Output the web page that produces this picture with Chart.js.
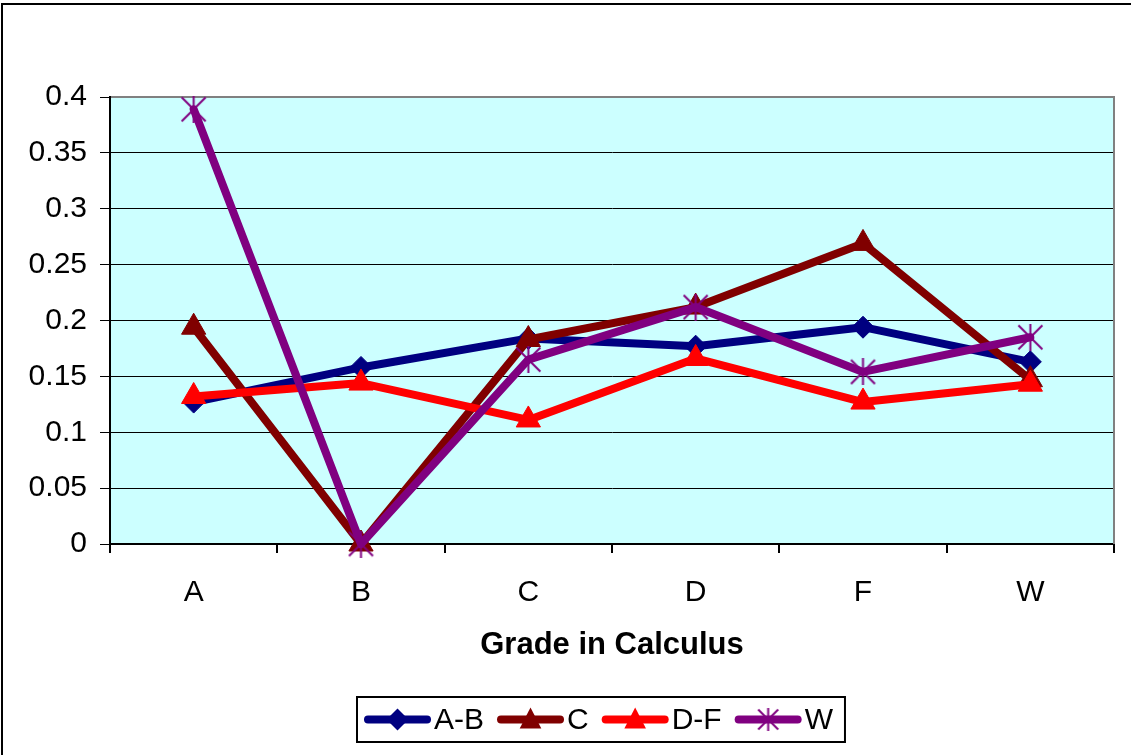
<!DOCTYPE html>
<html><head><meta charset="utf-8">
<script src="https://cdn.jsdelivr.net/npm/chart.js@4/dist/chart.umd.min.js"></script>
<style>html,body{margin:0;padding:0;background:#fff;}canvas{display:block;}</style>
</head><body>
<canvas id="c" width="1131" height="755"></canvas>
<script>
const categories = ['A', 'B', 'C', 'D', 'F', 'W'];
const seriesNames = ['A-B', 'C', 'D-F', 'W'];
const valuesAB = [0.127, 0.158, 0.184, 0.177, 0.194, 0.163];
const valuesC  = [0.194, 0.000, 0.183, 0.212, 0.269, 0.147];
const valuesDF = [0.132, 0.144, 0.111, 0.166, 0.127, 0.143];
const valuesW  = [0.389, 0.000, 0.165, 0.212, 0.154, 0.185];
const yTickValues = [0, 0.05, 0.1, 0.15, 0.2, 0.25, 0.3, 0.35, 0.4];
const yTickLabels = ['0', '0.05', '0.1', '0.15', '0.2', '0.25', '0.3', '0.35', '0.4'];
const xTitle = 'Grade in Calculus';

const FONT = '"Liberation Sans", Arial, sans-serif';
Chart.defaults.font.family = FONT;
Chart.defaults.color = '#000';

function starImage(size, color) {
  const c = document.createElement('canvas');
  c.width = size; c.height = size;
  const g = c.getContext('2d');
  g.strokeStyle = color; g.lineWidth = 2;
  g.beginPath();
  g.moveTo(size / 2, 0); g.lineTo(size / 2, size);
  g.moveTo(1.5, 1.5); g.lineTo(size - 1.5, size - 1.5);
  g.moveTo(size - 1.5, 1.5); g.lineTo(1.5, size - 1.5);
  g.stroke();
  return c;
}
const starBig = starImage(27, '#800080');
const starSmall = starImage(23, '#800080');

const bgPlugin = {
  id: 'bg',
  beforeDraw(chart) {
    const {ctx, chartArea: a} = chart;
    ctx.save();
    ctx.fillStyle = '#CCFFFF';
    ctx.fillRect(a.left, a.top, a.right - a.left, a.bottom - a.top);
    ctx.fillStyle = '#000';
    ctx.fillRect(1, 3, chart.width - 1, 2);
    ctx.fillRect(1, 3, 2, chart.height - 3);
    ctx.restore();
  },
  beforeDatasetsDraw(chart) {
    const {ctx, chartArea: a} = chart;
    ctx.save();
    ctx.strokeStyle = '#808080'; ctx.lineWidth = 2;
    ctx.beginPath();
    ctx.moveTo(a.left + 1, a.top); ctx.lineTo(a.right, a.top); ctx.lineTo(a.right, a.bottom);
    ctx.stroke();
    ctx.restore();
  }
};

function legendMarker(ctx, ds, x, y) {
  ctx.fillStyle = ds.borderColor; ctx.strokeStyle = ds.borderColor; ctx.lineWidth = 1;
  if (ds.pointStyle === 'rectRot') {
    const r = 11;
    ctx.beginPath(); ctx.moveTo(x, y - r); ctx.lineTo(x + r, y); ctx.lineTo(x, y + r); ctx.lineTo(x - r, y); ctx.closePath();
    ctx.fill();
  } else if (ds.pointStyle === 'triangle') {
    const r = 12;
    ctx.beginPath(); ctx.moveTo(x, y - r); ctx.lineTo(x + r * 0.9, y + r * 0.75); ctx.lineTo(x - r * 0.9, y + r * 0.75); ctx.closePath();
    ctx.fill();
  } else {
    ctx.drawImage(starSmall, x - starSmall.width / 2, y - starSmall.height / 2);
  }
}

const legendPlugin = {
  id: 'boxLegend',
  afterDraw(chart, args, opts) {
    const ctx = chart.ctx;
    ctx.save();
    ctx.font = '30px ' + FONT;
    const lineLen = 67, gapText = 3, gapItem = 13, padL = 7, padR = 12;
    const items = chart.data.datasets.map(ds => ({ds, w: ctx.measureText(ds.label).width}));
    const total = padL + padR + items.reduce((s, it) => s + lineLen + gapText + it.w, 0) + gapItem * (items.length - 1);
    const left = Math.round(opts.centerX - total / 2);
    const top = opts.top, h = opts.height;
    ctx.lineWidth = 2; ctx.strokeStyle = '#000';
    ctx.strokeRect(left, top, total, h);
    let x = left + padL;
    const cy = top + h / 2;
    items.forEach(({ds, w}) => {
      ctx.strokeStyle = ds.borderColor; ctx.lineWidth = ds.borderWidth; ctx.lineCap = 'round';
      ctx.beginPath(); ctx.moveTo(x + 4, cy); ctx.lineTo(x + lineLen - 4, cy); ctx.stroke();
      legendMarker(ctx, ds, x + lineLen / 2, cy);
      ctx.fillStyle = '#000'; ctx.textBaseline = 'middle'; ctx.textAlign = 'left';
      ctx.fillText(ds.label, x + lineLen + gapText, cy + 1);
      x += lineLen + gapText + w + gapItem;
    });
    ctx.restore();
  }
};

function series(label, data, color, style, radius, order) {
  return {
    label, data, borderColor: color, backgroundColor: color, borderWidth: 8,
    pointStyle: style, pointRadius: radius, pointHoverRadius: radius,
    pointBackgroundColor: color, pointBorderColor: color, pointBorderWidth: 1,
    tension: 0, clip: false, order, borderJoinStyle: 'round', borderCapStyle: 'round'
  };
}

new Chart(document.getElementById('c'), {
  type: 'line',
  data: {
    labels: categories,
    datasets: [
      series(seriesNames[0], valuesAB, '#000080', 'rectRot', 11, 4),
      series(seriesNames[1], valuesC, '#800000', 'triangle', 14, 3),
      series(seriesNames[2], valuesDF, '#FF0000', 'triangle', 14, 2),
      series(seriesNames[3], valuesW, '#800080', starBig, 13, 1)
    ]
  },
  options: {
    responsive: false, animation: false, devicePixelRatio: 1,
    layout: {padding: {left: 3, right: 17, top: 97, bottom: 75}},
    plugins: {
      legend: {display: false}, tooltip: {enabled: false},
      boxLegend: {centerX: 601, top: 697, height: 45}
    },
    scales: {
      x: {
        type: 'category', offset: true,
        grid: {display: true, drawOnChartArea: false, drawTicks: true, tickLength: 9, color: '#000', lineWidth: 2, offset: true},
        border: {display: true, color: '#000', width: 2},
        ticks: {color: '#000', font: {size: 30}, padding: 22, maxRotation: 0, autoSkip: false},
        title: {display: true, text: xTitle, color: '#000', font: {size: 31, weight: 'bold'}, padding: {top: 0, bottom: 16}},
        afterFit(s) { s.height = 136; s.paddingLeft = 0; s.paddingRight = 0; }
      },
      y: {
        min: 0, max: 0.4,
        afterBuildTicks(s) { s.ticks = yTickValues.map(v => ({value: v})); },
        ticks: {
          color: '#000', font: {size: 30}, padding: 13,
          callback: v => { const i = yTickValues.findIndex(t => Math.abs(t - v) < 1e-9); return i >= 0 ? yTickLabels[i] : ''; }
        },
        grid: {
          color: c => (c.tick && Math.abs(c.tick.value - 0.4) < 1e-9) ? '#808080' : '#000',
          lineWidth: 1, tickLength: 10, tickColor: '#000'
        },
        border: {display: true, color: '#000', width: 2},
        afterFit(s) { s.width = 107; s.paddingTop = 0; s.paddingBottom = 0; }
      }
    }
  },
  plugins: [bgPlugin, legendPlugin]
});
</script>
</body></html>
